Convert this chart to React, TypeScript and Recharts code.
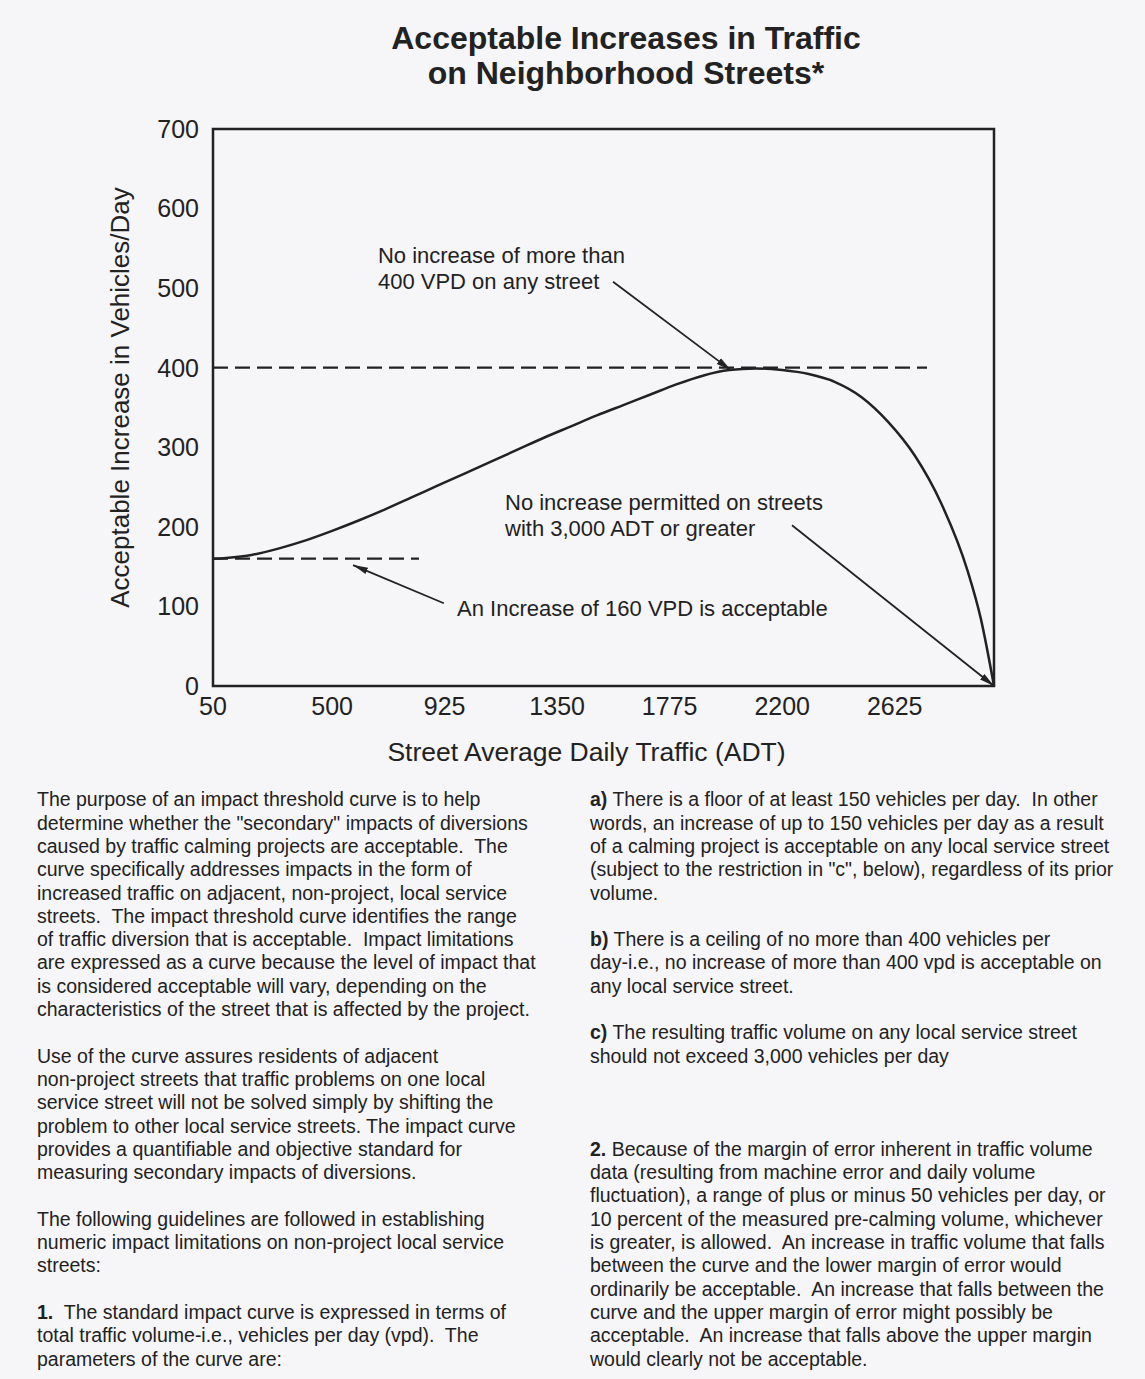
import React from "react";
import { LineChart, Line, XAxis, YAxis, ReferenceLine, ReferenceArea, ReferenceDot } from "recharts";

const FONT = '"Liberation Sans", Arial, Helvetica, sans-serif';
const INK = "#222";

// impact threshold curve
const adt = [50, 100, 200, 300, 400, 500, 600, 700, 800, 900, 1000, 1100, 1200, 1300, 1400, 1500, 1600, 1700, 1800, 1900, 2000, 2100, 2200, 2300, 2400, 2500, 2600, 2700, 2800, 2900, 2950, 3000];
const vpd = [160, 161, 165, 173, 183, 195, 208, 222, 237, 252, 267, 282, 297, 312, 326, 340, 353, 366, 379, 390, 397, 399, 397, 392, 382, 363, 332, 290, 230, 145, 85, 0];

const xTicks = [50, 500, 925, 1350, 1775, 2200, 2625];
const yTicks = [0, 100, 200, 300, 400, 500, 600, 700];

const ceilingVpd = 400;
const floorVpd = 160;
const ceilingEnd = 2747;
const floorEnd = 828;

const titleLines = ["Acceptable Increases in Traffic", "on Neighborhood Streets*"];

const noteCeiling = ["No increase of more than", "400 VPD on any street"];
const noteCutoff = ["No increase permitted on streets", "with 3,000 ADT or greater"];
const noteFloor = ["An Increase of 160 VPD is acceptable"];

// note anchors and arrows, in chart units (ADT, VPD)
const noteCeilingAt = { x: 673, y: 542 };
const noteCutoffAt = { x: 1153, y: 231 };
const noteFloorAt = { x: 972, y: 98 };
const arrowCeiling = [{ x: 1561, y: 508 }, { x: 2006, y: 397 }];
const arrowCutoff = [{ x: 2237, y: 202 }, { x: 3000, y: 0 }];
const arrowFloor = [{ x: 922, y: 104 }, { x: 579, y: 152 }];

const leftText = [
  "The purpose of an impact threshold curve is to help",
  'determine whether the "secondary" impacts of diversions',
  "caused by traffic calming projects are acceptable.  The",
  "curve specifically addresses impacts in the form of",
  "increased traffic on adjacent, non-project, local service",
  "streets.  The impact threshold curve identifies the range",
  "of traffic diversion that is acceptable.  Impact limitations",
  "are expressed as a curve because the level of impact that",
  "is considered acceptable will vary, depending on the",
  "characteristics of the street that is affected by the project.",
  "",
  "Use of the curve assures residents of adjacent",
  "non-project streets that traffic problems on one local",
  "service street will not be solved simply by shifting the",
  "problem to other local service streets. The impact curve",
  "provides a quantifiable and objective standard for",
  "measuring secondary impacts of diversions.",
  "",
  "The following guidelines are followed in establishing",
  "numeric impact limitations on non-project local service",
  "streets:",
  "",
  "1.|  The standard impact curve is expressed in terms of",
  "total traffic volume-i.e., vehicles per day (vpd).  The",
  "parameters of the curve are:",
];

const rightText = [
  "a)| There is a floor of at least 150 vehicles per day.  In other",
  "words, an increase of up to 150 vehicles per day as a result",
  "of a calming project is acceptable on any local service street",
  '(subject to the restriction in "c", below), regardless of its prior',
  "volume.",
  "",
  "b)| There is a ceiling of no more than 400 vehicles per",
  "day-i.e., no increase of more than 400 vpd is acceptable on",
  "any local service street.",
  "",
  "c)| The resulting traffic volume on any local service street",
  "should not exceed 3,000 vehicles per day",
  "",
  "",
  "",
  "2.| Because of the margin of error inherent in traffic volume",
  "data (resulting from machine error and daily volume",
  "fluctuation), a range of plus or minus 50 vehicles per day, or",
  "10 percent of the measured pre-calming volume, whichever",
  "is greater, is allowed.  An increase in traffic volume that falls",
  "between the curve and the lower margin of error would",
  "ordinarily be acceptable.  An increase that falls between the",
  "curve and the upper margin of error might possibly be",
  "acceptable.  An increase that falls above the upper margin",
  "would clearly not be acceptable.",
];

const data = adt.map((x, i) => ({ adt: x, vpd: vpd[i] }));

function Note({ cx, cy, lines }: { cx?: number; cy?: number; lines: string[] }) {
  return (
    <text x={cx} y={cy} fontFamily={FONT} fontSize={22} fill={INK}>
      {lines.map((l, i) => (
        <tspan key={i} x={cx} y={(cy ?? 0) + 8 + i * 26}>
          {l}
        </tspan>
      ))}
    </text>
  );
}

const arrowShape = (p: any) => (
  <line x1={p.x1} y1={p.y1} x2={p.x2} y2={p.y2} stroke={INK} strokeWidth={1.8} markerEnd="url(#arrowHead)" />
);

function TextColumn({ lines, left }: { lines: string[]; left: number }) {
  return (
    <div style={{ position: "absolute", left, top: 788.4, fontSize: 19.5, whiteSpace: "pre" }}>
      {lines.map((l, i) => {
        const [head, rest] = l.includes("|") ? l.split("|") : ["", l];
        return (
          <div key={i} style={{ height: 23.3, lineHeight: "23.3px" }}>
            {head && <b>{head}</b>}
            {rest}
          </div>
        );
      })}
    </div>
  );
}

export default function App() {
  return (
    <div
      style={{
        position: "absolute",
        left: 0,
        top: 0,
        width: 1145,
        height: 1379,
        overflow: "hidden",
        background: "#f6f5f8",
        color: INK,
        fontFamily: FONT,
      }}
    >
      {titleLines.map((t, i) => (
        <div
          key={t}
          style={{
            position: "absolute",
            left: 0,
            top: 22 + i * 35,
            width: 1252,
            textAlign: "center",
            fontWeight: "bold",
            fontSize: 32,
            lineHeight: "32px",
            whiteSpace: "nowrap",
          }}
        >
          {t}
        </div>
      ))}

      <div style={{ position: "absolute", left: 0, top: 0 }}>
        <LineChart width={1145} height={790} data={data} margin={{ top: 129, right: 151, left: 113, bottom: 44 }}>
          <defs>
            <marker id="arrowHead" markerUnits="userSpaceOnUse" markerWidth={16} markerHeight={10} refX={15} refY={5} orient="auto">
              <path d="M0,1.5 L15,5 L0,8.5 Z" fill={INK} />
            </marker>
          </defs>
          <XAxis
            dataKey="adt"
            type="number"
            domain={[50, 3000]}
            ticks={xTicks}
            height={60}
            axisLine={false}
            tickLine={false}
            tickSize={0}
            tickMargin={11}
            tick={{ fill: INK, fontSize: 25, fontFamily: FONT }}
            label={{
              content: (p: any) => (
                <text x={p.viewBox.x + p.viewBox.width / 2 - 17} y={761} textAnchor="middle" fontSize={26.5} fontFamily={FONT} fill={INK}>
                  Street Average Daily Traffic (ADT)
                </text>
              ),
            }}
          />
          <YAxis
            type="number"
            domain={[0, 700]}
            ticks={yTicks}
            width={100}
            axisLine={false}
            tickLine={false}
            tickSize={0}
            tickMargin={14}
            tick={{ fill: INK, fontSize: 25, fontFamily: FONT }}
            label={{
              content: (p: any) => {
                const cx = 120;
                const cy = p.viewBox.y + p.viewBox.height / 2 - 10;
                return (
                  <text x={cx} y={cy} transform={`rotate(-90 ${cx} ${cy})`} textAnchor="middle" dominantBaseline="central" fontSize={26} fontFamily={FONT} fill={INK}>
                    Acceptable Increase in Vehicles/Day
                  </text>
                );
              },
            }}
          />
          <ReferenceArea x1={50} x2={3000} y1={0} y2={700} fill="none" stroke={INK} strokeWidth={2.5} />
          <ReferenceLine segment={[{ x: 50, y: ceilingVpd }, { x: ceilingEnd, y: ceilingVpd }]} stroke={INK} strokeWidth={2.2} strokeDasharray="15 7" />
          <ReferenceLine segment={[{ x: 50, y: floorVpd }, { x: floorEnd, y: floorVpd }]} stroke={INK} strokeWidth={2.2} strokeDasharray="15 7" />
          <ReferenceLine segment={arrowCeiling} shape={arrowShape} />
          <ReferenceLine segment={arrowCutoff} shape={arrowShape} />
          <ReferenceLine segment={arrowFloor} shape={arrowShape} />
          <ReferenceDot x={noteCeilingAt.x} y={noteCeilingAt.y} r={0} shape={(p: any) => <Note cx={p.cx} cy={p.cy} lines={noteCeiling} />} />
          <ReferenceDot x={noteCutoffAt.x} y={noteCutoffAt.y} r={0} shape={(p: any) => <Note cx={p.cx} cy={p.cy} lines={noteCutoff} />} />
          <ReferenceDot x={noteFloorAt.x} y={noteFloorAt.y} r={0} shape={(p: any) => <Note cx={p.cx} cy={p.cy} lines={noteFloor} />} />
          <Line type="monotone" dataKey="vpd" stroke={INK} strokeWidth={2.5} dot={false} isAnimationActive={false} />
        </LineChart>
      </div>

      <TextColumn lines={leftText} left={37} />
      <TextColumn lines={rightText} left={590} />
    </div>
  );
}
